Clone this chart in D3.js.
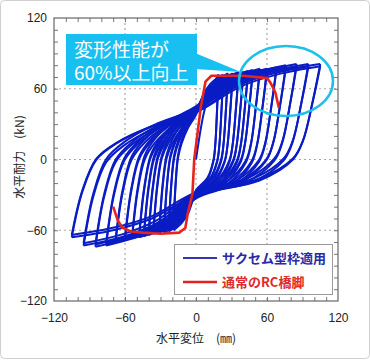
<!DOCTYPE html>
<html><head><meta charset="utf-8">
<script src="https://cdn.jsdelivr.net/npm/d3@7"></script>
<style>html,body{margin:0;padding:0;background:#fff}svg{display:block}</style>
</head><body>
<svg id="c" width="370" height="360"></svg>
<script>
// ---- data ----
const xTicks = [-120, -60, 0, 60, 120];
const yTicks = [-120, -60, 0, 60, 120];
const gridValues = [-60, 0, 60];
// blue cycles (two cycles per amplitude)
const posDisp  = [19,19,23,23,27,27,31,31,36,36,40,40,44,44,48,48,54,54,60,60,68,68,76,76,85,85,95,95,105,105];
const posForce = [72,70,72,70,73,71,73,71,74,72,74,72,75,73,76,74,77,75,77,75,78,76,80,78,81,79,81,79,81,79];
const negDisp  = [-19,-19,-23,-23,-27,-27,-31,-31,-36,-36,-40,-40,-44,-44,-48,-48,-54,-54,-60,-60,-68,-68,-76,-76,-85,-85,-95,-95,-105,-105];
const negForce = [-60,-58,-61,-59,-62,-60,-62,-60,-63,-61,-64,-62,-65,-63,-66,-64,-67,-65,-68,-66,-70,-68,-73,-71,-74,-72,-73,-71,-66,-64];
const convUp   = [40,38,41,39,42,40,42,39,43,40,43,41,44,41,44,42,44,41,45,42,44,42,45,42,44,41,43,40,43,40];
const convDown = [-28,-26,-29,-27,-30,-27,-30,-28,-31,-28,-31,-28,-32,-29,-32,-29,-32,-29,-33,-30,-32,-29,-31,-29,-31,-28,-31,-28,-30,-28];
// branch shapes read from the outermost loop (fractions of amplitude / force span)
const reloadX = [1, 0.914, 0.8, 0.64, 0.37, 0];
const reloadT = [0, 0.367, 0.624, 0.752, 0.881, 1];
const bandX   = [0.35, 0.65, 1];
const bandT   = [0.55, 0.82, 1];
const unloadX = [1, 0.94, 0.86, 0.78, 0.51, 0];
const unloadT = [0, 0.28, 0.59, 0.73, 0.89, 1];
// red skeleton curve (normal RC pier)
const redDisp  = [-70,-66,-62,-55,-45,-30,-14,-9,-7,-3,-1.5,4,8,13,40,60,63,67,70];
const redForce = [-40,-52,-58,-61,-62,-63,-62,-58,-46,-29,0,44,66,71,71,69,65,57,44];
const legendLabels = ["サクセム型枠適用", "通常のRC橋脚"];
const calloutLines = ["変形性能が", "60%以上向上"];

// ---- drawing ----
const svg = d3.select("#c");
const x = d3.scaleLinear().domain([-120, 120]).range([54, 338]);
const y = d3.scaleLinear().domain([-120, 120]).range([301, 18]);
const font = "'Liberation Sans', Arial, sans-serif";
const jp = "'Noto Sans CJK JP', sans-serif";

svg.append("rect").attr("x", 0.5).attr("y", 0.5).attr("width", 369).attr("height", 358)
  .attr("rx", 4).attr("fill", "#fff").attr("stroke", "#cfcfcf");

// grid
const grid = svg.append("g").attr("stroke", "#a8a8a8").attr("stroke-width", 1.2).attr("stroke-dasharray", "2,3");
gridValues.forEach(v => {
  grid.append("line").attr("x1", x(v)).attr("x2", x(v)).attr("y1", y(120)).attr("y2", y(-120));
  grid.append("line").attr("y1", y(v)).attr("y2", y(v)).attr("x1", x(-120)).attr("x2", x(120));
});

// minor ticks on all sides (inward)
const minor = d3.range(-110, 120, 10);
function minorAxis(axis, tx, ty) {
  const g = svg.append("g").attr("transform", `translate(${tx},${ty})`)
    .call(axis.tickValues(minor).tickSize(-4).tickFormat(""));
  g.select(".domain").remove();
  g.selectAll("line").attr("stroke", "#777");
}
minorAxis(d3.axisBottom(x), 0, y(-120));
minorAxis(d3.axisTop(x), 0, y(120));
minorAxis(d3.axisLeft(y), x(-120), 0);
minorAxis(d3.axisRight(y), x(120), 0);

// major labels
const gx = svg.append("g").attr("transform", `translate(0,${y(-120)})`)
  .call(d3.axisBottom(x).tickValues(xTicks).tickSize(0).tickPadding(12).tickFormat(d3.format("d")));
gx.select(".domain").remove();
gx.selectAll("text").attr("font-family", font).attr("font-size", 12).attr("fill", "#222");
const gy = svg.append("g").attr("transform", `translate(${x(-120)},0)`)
  .call(d3.axisLeft(y).tickValues(yTicks).tickSize(0).tickPadding(7).tickFormat(d3.format("d")));
gy.select(".domain").remove();
gy.selectAll("text").attr("font-family", font).attr("font-size", 12).attr("fill", "#222");

// blue hysteresis
const line = d3.line().x(d => x(d[0])).y(d => y(d[1])).curve(d3.curveCatmullRom.alpha(0.5));
const blue = svg.append("g").attr("fill", "none").attr("stroke", "#0a1cc4")
  .attr("stroke-width", 2).attr("stroke-linejoin", "miter");
const n = posDisp.length;
for (let i = 0; i < n; i++) {
  // loading branch to positive peak i
  let up = [];
  if (i === 0) {
    up.push([0, 0]);
  } else {
    const dn = negDisp[i - 1], fn = negForce[i - 1], c = convUp[i];
    reloadX.forEach((fx, k) => up.push([dn * fx, fn + (c - fn) * reloadT[k]]));
  }
  const c0 = i === 0 ? 0 : convUp[i];
  bandX.forEach((fx, k) => up.push([posDisp[i] * fx, c0 + (posForce[i] - c0) * bandT[k]]));
  blue.append("path").attr("d", line(up));
  // unloading branch to negative peak i
  const dp = posDisp[i], fp = posForce[i], cd = convDown[i];
  let down = [];
  unloadX.forEach((fx, k) => down.push([dp * fx, fp + (cd - fp) * unloadT[k]]));
  bandX.forEach((fx, k) => down.push([negDisp[i] * fx, cd + (negForce[i] - cd) * bandT[k]]));
  blue.append("path").attr("d", line(down));
}
// final reload from last negative peak
{
  const dn = negDisp[n - 1], fn = negForce[n - 1], c = convUp[n - 1];
  const last = reloadX.map((fx, k) => [dn * fx, fn + (c - fn) * reloadT[k]]);
  blue.append("path").attr("d", line(last));
}

// red curve
const redPts = redDisp.map((d, i) => [d, redForce[i]]);
svg.append("path").attr("d", d3.line().x(d => x(d[0])).y(d => y(d[1])).curve(d3.curveLinear)(redPts))
  .attr("fill", "none").attr("stroke", "#e8231c").attr("stroke-width", 2.6).attr("stroke-linejoin", "round");

// frame
svg.append("rect").attr("x", x(-120)).attr("y", y(120)).attr("width", x(120) - x(-120)).attr("height", y(-120) - y(120))
  .attr("fill", "none").attr("stroke", "#666").attr("stroke-width", 1.2);

// ellipse highlight
svg.append("ellipse").attr("cx", 286).attr("cy", 81).attr("rx", 47).attr("ry", 35)
  .attr("fill", "none").attr("stroke", "#1cc0ea").attr("stroke-width", 2.5);

// callout
const cyan = "#17c0f0";
svg.append("polygon").attr("points", "195,53 195,69 241,72").attr("fill", cyan);
svg.append("rect").attr("x", 66).attr("y", 34).attr("width", 131).attr("height", 51).attr("fill", cyan);
svg.append("text").attr("font-family", jp).attr("font-size", 19).attr("fill", "#fff")
  .selectAll("tspan").data(calloutLines).join("tspan")
  .attr("x", 74).attr("y", (d, i) => 57 + i * 23).text(d => d);

// legend
svg.append("rect").attr("x", 174.5).attr("y", 244.5).attr("width", 158).attr("height", 50)
  .attr("fill", "#fff").attr("stroke", "#9a9a9a");
const legColors = ["#3434b0", "#e02222"];
const legText = ["#2a2aa4", "#e02a2a"];
legendLabels.forEach((t, i) => {
  const ly = 258 + i * 24;
  svg.append("line").attr("x1", 183).attr("x2", 217).attr("y1", ly).attr("y2", ly)
    .attr("stroke", legColors[i]).attr("stroke-width", i ? 2.6 : 1.8);
  svg.append("text").attr("x", 222).attr("y", ly + 5).attr("font-family", jp).attr("font-size", 13)
    .attr("font-weight", "bold").attr("fill", legText[i]).text(t);
});

// axis titles
svg.append("text").attr("x", 196).attr("y", 343).attr("text-anchor", "middle")
  .attr("font-family", jp).attr("font-size", 12).attr("fill", "#222").text("水平変位　(㎜)");
svg.append("text").attr("transform", "translate(24,157) rotate(-90)").attr("text-anchor", "middle")
  .attr("font-family", jp).attr("font-size", 12).attr("fill", "#222").text("水平耐力　(kN)");
</script>
</body></html>
